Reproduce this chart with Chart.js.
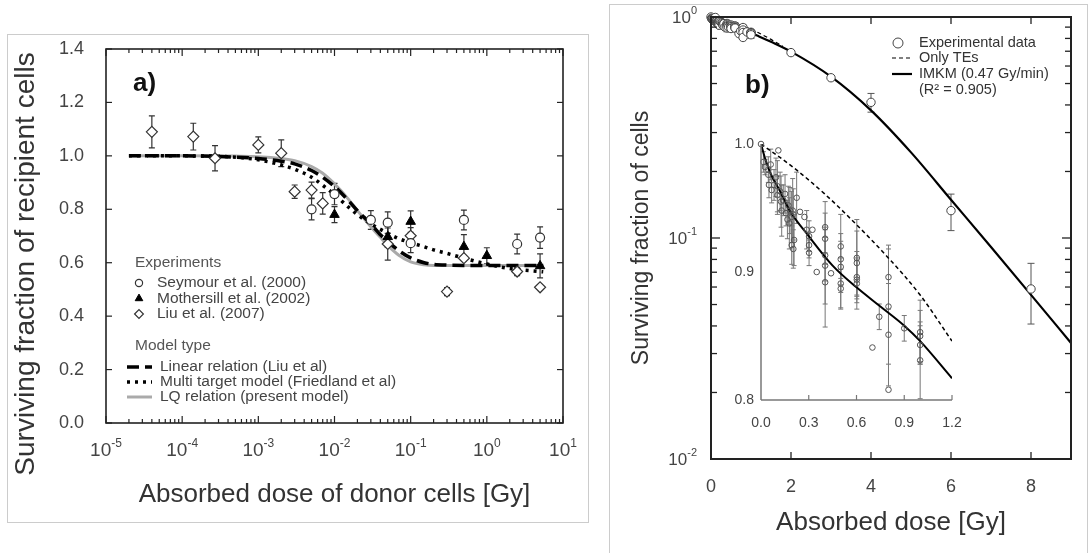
<!DOCTYPE html>
<html>
<head>
<meta charset="utf-8">
<script src="https://cdn.jsdelivr.net/npm/chart.js@4.4.1/dist/chart.umd.min.js"></script>
<style>
  body { margin: 0; background: #fff; }
  #wrap { position: relative; width: 1090px; height: 553px; overflow: hidden; }
  canvas { position: absolute; }
  .frame { position: absolute; box-sizing: border-box; }
</style>
</head>
<body>
<div id="wrap">
  <div class="frame" style="left:7px;top:34px;width:582px;height:489px;border:1px solid #ccc"></div>
  <div class="frame" style="left:609px;top:4px;width:479px;height:560px;border:1px solid #ccc;border-bottom:none"></div>
  <canvas id="chartA" width="600" height="553" style="left:0;top:0"></canvas>
  <canvas id="chartB" width="490" height="553" style="left:600px;top:0"></canvas>
  <canvas id="chartC" width="260" height="320" style="left:720px;top:120px"></canvas>
</div>
<script>
const FONT = '"Liberation Sans", Arial, Helvetica, sans-serif';
Chart.defaults.font.family = FONT;

// ---- panel a: bystander experiments vs. models ----
const aTickY = [0, 0.2, 0.4, 0.6, 0.8, 1.0, 1.2, 1.4];
const aTickExp = [-5, -4, -3, -2, -1, 0, 1];

const seymourDose = [5e-3, 1e-2, 3e-2, 5e-2, 0.1, 0.5, 2.5, 5];
const seymourSF   = [0.80, 0.857, 0.76, 0.75, 0.673, 0.76, 0.67, 0.694];
const seymourErr  = [0.04, 0.04, 0.035, 0.04, 0.035, 0.037, 0.037, 0.04];

const mothersillDose = [1e-2, 5e-2, 0.1, 0.5, 1, 5];
const mothersillSF   = [0.78, 0.697, 0.754, 0.66, 0.626, 0.588];
const mothersillErr  = [0.03, 0.04, 0.04, 0.045, 0.03, 0.045];

const liuDose = [4e-5, 1.4e-4, 2.7e-4, 1e-3, 2e-3, 3e-3, 5e-3, 7e-3, 5e-2, 0.1, 0.3, 0.5, 2.5, 5];
const liuSF   = [1.09, 1.072, 0.991, 1.041, 1.01, 0.866, 0.872, 0.822, 0.67, 0.701, 0.492, 0.617, 0.567, 0.508];
const liuErr  = [0.06, 0.05, 0.047, 0.03, 0.05, 0.025, 0.03, 0.04, 0.06, 0.03, 0.015, 0.01, 0.015, 0];

const modelDose   = [2e-5, 1e-4, 5e-4, 1e-3, 2e-3, 3e-3, 5e-3, 7e-3, 1e-2, 1.5e-2, 2e-2, 3e-2, 4e-2, 5e-2, 7e-2, 0.1, 0.15, 0.2, 0.3, 0.5, 1, 2, 5.5];
const linearSF    = [1.0, 1.0, 0.995, 0.99, 0.98, 0.97, 0.945, 0.92, 0.885, 0.835, 0.795, 0.745, 0.705, 0.68, 0.645, 0.618, 0.6, 0.594, 0.591, 0.59, 0.59, 0.59, 0.59];
const multiSF     = [1.0, 1.0, 0.995, 0.985, 0.966, 0.95, 0.92, 0.89, 0.855, 0.81, 0.78, 0.745, 0.725, 0.71, 0.69, 0.675, 0.66, 0.648, 0.635, 0.617, 0.595, 0.578, 0.566];
const lqSF        = [1.0, 1.0, 0.999, 0.997, 0.99, 0.982, 0.96, 0.935, 0.895, 0.84, 0.795, 0.735, 0.695, 0.665, 0.628, 0.603, 0.592, 0.59, 0.59, 0.59, 0.59, 0.59, 0.59];

// ---- panel b: survival curve ----
const bTickX = [0, 2, 4, 6, 8];
const bTickExp = [-2, -1, 0];
const insetTickX = [0, 0.3, 0.6, 0.9, 1.2];
const insetTickY = [0.8, 0.9, 1.0];

const expDose = [0, 0.015, 0.025, 0.046, 0.061, 0.046, 0.05, 0.067, 0.082, 0.094, 0.103, 0.103, 0.109, 0.12, 0.126, 0.13, 0.14, 0.151, 0.157, 0.166,
  0.172, 0.182, 0.178, 0.191, 0.199, 0.203, 0.208, 0.193, 0.203, 0.224, 0.245, 0.273, 0.287, 0.302, 0.302, 0.302, 0.323, 0.35, 0.403, 0.403,
  0.403, 0.403, 0.403, 0.44, 0.501, 0.501, 0.501, 0.501, 0.501, 0.602, 0.602, 0.602, 0.602, 0.602, 0.70, 0.743, 0.801, 0.801, 0.801, 0.801,
  0.9, 1.0, 1.0, 1.0, 1.0, 2, 3, 4, 6, 8];
const expSF = [1.0, 0.986, 0.982, 0.98, 0.984, 0.976, 0.968, 0.964, 0.968, 0.974, 0.967, 0.96, 0.995, 0.963, 0.955, 0.948, 0.956, 0.961, 0.946, 0.941,
  0.952, 0.948, 0.938, 0.943, 0.948, 0.945, 0.925, 0.921, 0.918, 0.958, 0.947, 0.943, 0.933, 0.928, 0.921, 0.915, 0.933, 0.9, 0.935, 0.926,
  0.913, 0.905, 0.892, 0.899, 0.92, 0.91, 0.904, 0.891, 0.887, 0.911, 0.907, 0.896, 0.894, 0.891, 0.841, 0.865, 0.896, 0.873, 0.851, 0.808,
  0.856, 0.853, 0.85, 0.843, 0.831, 0.69, 0.531, 0.411, 0.133, 0.0588];
const expErr = [0, 0.008, 0.006, 0.01, 0.012, 0, 0.01, 0.01, 0.012, 0.015, 0.02, 0.015, 0, 0.015, 0.02, 0.02, 0.012, 0.015, 0.01, 0.015,
  0.015, 0.018, 0.02, 0.02, 0.025, 0.02, 0.02, 0.015, 0.015, 0.02, 0, 0, 0.015, 0.012, 0.01, 0.01, 0, 0, 0.02, 0.02,
  0.02, 0.03, 0.035, 0, 0.025, 0.02, 0.02, 0.02, 0.015, 0.03, 0.025, 0.02, 0.015, 0.02, 0, 0.01, 0.025, 0.045, 0.04, 0,
  0.01, 0.025, 0.02, 0.015, 0.03, 0.015, 0, 0.04, 0.025, 0.018];

const imkmDose = [0, 0.03, 0.06, 0.12, 0.18, 0.3, 0.45, 0.6, 0.75, 0.9, 1.0, 1.2, 1.5, 2, 3, 4, 5, 6, 7, 8, 9];
const imkmSF   = [1, 0.987, 0.977, 0.963, 0.948, 0.928, 0.905, 0.888, 0.873, 0.858, 0.846, 0.817, 0.772, 0.697, 0.537, 0.378, 0.244, 0.149, 0.091, 0.0553, 0.0335];
const teDose = [0, 0.2, 0.4, 0.6, 0.8, 1.0, 1.2, 1.5, 1.8];
const teSF   = [1, 0.982, 0.961, 0.937, 0.911, 0.882, 0.846, 0.792, 0.735];

// ---- helpers ----
const pts = (xs, ys) => xs.map((x, i) => ({ x: x, y: ys[i] }));
const upTo = (xs, ys, lim) => pts(xs, ys).filter(p => p.x <= lim);

function seg(ctx, x1, y1, x2, y2) {
  ctx.beginPath(); ctx.moveTo(x1, y1); ctx.lineTo(x2, y2); ctx.stroke();
}
function txt(ctx, s, x, y, font, color, align, rot) {
  ctx.save();
  ctx.font = font; ctx.fillStyle = color;
  ctx.textAlign = align || 'left'; ctx.textBaseline = 'middle';
  if (rot) { ctx.translate(x, y); ctx.rotate(rot); ctx.fillText(s, 0, 0); }
  else ctx.fillText(s, x, y);
  ctx.restore();
}
function pow10(ctx, e, x, y, size, color, align) {
  ctx.save();
  const f1 = size + 'px ' + FONT, f2 = Math.round(size * 0.63) + 'px ' + FONT;
  ctx.font = f1; const w1 = ctx.measureText('10').width;
  ctx.font = f2; const w2 = ctx.measureText(String(e)).width;
  const x0 = align === 'right' ? x - w1 - w2 : x - (w1 + w2) / 2;
  ctx.restore();
  txt(ctx, '10', x0, y, f1, color, 'left');
  txt(ctx, String(e), x0 + w1, y - size * 0.4, f2, color, 'left');
}
function sample(ctx, ds, x1, x2, y) {
  ctx.save();
  ctx.strokeStyle = ds.borderColor; ctx.lineWidth = ds.borderWidth;
  ctx.setLineDash(ds.borderDash || []);
  seg(ctx, x1, y, x2, y);
  ctx.restore();
}
function marker(ctx, ds, x, y, r) {
  ctx.save();
  ctx.fillStyle = ds.pointBackgroundColor; ctx.strokeStyle = ds.pointBorderColor;
  ctx.lineWidth = ds.pointBorderWidth;
  Chart.helpers.drawPoint(ctx, { pointStyle: ds.pointStyle, rotation: 0, radius: r || ds.pointRadius, borderWidth: ds.pointBorderWidth }, x, y);
  ctx.restore();
}
function drawErrors(chart) {
  const ctx = chart.ctx, yS = chart.scales.y;
  chart.data.datasets.forEach((ds, i) => {
    if (!ds.errors) return;
    const meta = chart.getDatasetMeta(i);
    ctx.save();
    ctx.strokeStyle = ds.errorColor; ctx.lineWidth = ds.errorWidth;
    meta.data.forEach((pt, j) => {
      const e = ds.errors[j];
      if (!e) return;
      const v = ds.data[j].y, c = ds.capSize;
      const y1 = yS.getPixelForValue(v + e), y2 = yS.getPixelForValue(v - e);
      ctx.beginPath();
      ctx.moveTo(pt.x, y1); ctx.lineTo(pt.x, y2);
      ctx.moveTo(pt.x - c, y1); ctx.lineTo(pt.x + c, y1);
      ctx.moveTo(pt.x - c, y2); ctx.lineTo(pt.x + c, y2);
      ctx.stroke();
    });
    ctx.restore();
  });
}
function scatterSet(label, data, errors, style) {
  return Object.assign({ label: label, data: data, errors: errors, showLine: false, clip: false,
    errorColor: '#333', errorWidth: 1.2, capSize: 3 }, style);
}
function lineSet(label, data, style) {
  return Object.assign({ label: label, data: data, showLine: true, pointRadius: 0, fill: false,
    cubicInterpolationMode: 'monotone', borderColor: '#000' }, style);
}
function makeChart(id, datasets, scales, padding, plugin) {
  return new Chart(document.getElementById(id), {
    type: 'scatter',
    data: { datasets: datasets },
    options: {
      responsive: false, animation: false, devicePixelRatio: 1, events: [],
      layout: { padding: padding },
      scales: scales,
      plugins: { legend: { display: false }, tooltip: { enabled: false } }
    },
    plugins: [plugin]
  });
}

// ---- chart a ----
const aSets = [
  scatterSet('Seymour et al. (2000)', pts(seymourDose, seymourSF), seymourErr,
    { pointStyle: 'circle', pointRadius: 4.5, pointBorderColor: '#333', pointBackgroundColor: '#fff', pointBorderWidth: 1.2 }),
  scatterSet('Mothersill et al. (2002)', pts(mothersillDose, mothersillSF), mothersillErr,
    { pointStyle: 'triangle', pointRadius: 5.5, pointBorderColor: '#000', pointBackgroundColor: '#000', pointBorderWidth: 1 }),
  scatterSet('Liu et al. (2007)', pts(liuDose, liuSF), liuErr,
    { pointStyle: 'rectRot', pointRadius: 5.5, pointBorderColor: '#333', pointBackgroundColor: '#fff', pointBorderWidth: 1.2 }),
  lineSet('Multi target model (Friedland et al)', pts(modelDose, multiSF), { borderWidth: 3.5, borderDash: [3, 5] }),
  lineSet('Linear relation (Liu et al)', pts(modelDose, linearSF), { borderWidth: 3.5, borderDash: [12, 6] }),
  lineSet('LQ relation (present model)', pts(modelDose, lqSF), { borderWidth: 3, borderColor: '#aaa' })
];

const panelA = {
  id: 'panelA',
  beforeDatasetsDraw(chart) { drawErrors(chart); },
  afterDraw(chart) {
    const ctx = chart.ctx, ca = chart.chartArea, x = chart.scales.x, y = chart.scales.y;
    ctx.save();
    ctx.strokeStyle = '#222'; ctx.lineWidth = 1.6;
    ctx.strokeRect(ca.left, ca.top, ca.right - ca.left, ca.bottom - ca.top);
    ctx.lineWidth = 1.2;
    aTickY.forEach(v => {
      const py = y.getPixelForValue(v);
      seg(ctx, ca.left, py, ca.left + 6, py);
      seg(ctx, ca.right, py, ca.right - 6, py);
      txt(ctx, v.toFixed(1), ca.left - 22, py, '18px ' + FONT, '#444', 'right');
    });
    aTickExp.forEach((e, k) => {
      for (let m = 1; m <= 9; m++) {
        if (k === aTickExp.length - 1 && m > 1) break;
        const px = x.getPixelForValue(m * Math.pow(10, e));
        const len = m === 1 ? 7 : 4;
        seg(ctx, px, ca.bottom, px, ca.bottom - len);
        seg(ctx, px, ca.top, px, ca.top + len);
      }
      pow10(ctx, e, x.getPixelForValue(Math.pow(10, e)), ca.bottom + 28, 19, '#444');
    });
    ctx.restore();

    txt(ctx, 'Absorbed dose of donor cells [Gy]', (ca.left + ca.right) / 2, 495, '26px ' + FONT, '#333', 'center');
    txt(ctx, 'Surviving fraction of recipient cells', 26, 264, '28px ' + FONT, '#333', 'center', -Math.PI / 2);
    txt(ctx, 'a)', 133, 84, 'bold 26px ' + FONT, '#111', 'left');

    // legend
    const ds = chart.data.datasets, lf = '15.5px ' + FONT;
    txt(ctx, 'Experiments', 135, 263, lf, '#555', 'left');
    [0, 1, 2].forEach((i, k) => {
      const ly = 283 + k * 15.5;
      marker(ctx, ds[i], 139, ly, ds[i].pointRadius * 0.8);
      txt(ctx, ds[i].label, 157, ly, lf, '#444', 'left');
    });
    txt(ctx, 'Model type', 135, 346, lf, '#555', 'left');
    [4, 3, 5].forEach((i, k) => {
      const ly = 367 + k * 15;
      sample(ctx, ds[i], 127, 152, ly);
      txt(ctx, ds[i].label, 160, ly, lf, '#444', 'left');
    });
  }
};

makeChart('chartA', aSets, {
  x: { type: 'logarithmic', min: 1e-5, max: 10, display: false },
  y: { type: 'linear', min: 0, max: 1.4, display: false }
}, { left: 106, right: 37, top: 49, bottom: 130 }, panelA);

// ---- chart b (main) ----
const bSets = [
  scatterSet('Experimental data', pts(expDose, expSF), expErr,
    { pointStyle: 'circle', pointRadius: 4.2, pointBorderColor: '#444', pointBackgroundColor: '#fff', pointBorderWidth: 1,
      errorColor: '#555', errorWidth: 1, capSize: 3.5 }),
  lineSet('Only TEs', pts(teDose, teSF), { borderWidth: 1.2, borderDash: [4, 3] }),
  lineSet('IMKM (0.47 Gy/min)', pts(imkmDose, imkmSF), { borderWidth: 2.2 })
];

const panelB = {
  id: 'panelB',
  beforeDatasetsDraw(chart) { drawErrors(chart); },
  afterDraw(chart) {
    const ctx = chart.ctx, ca = chart.chartArea, x = chart.scales.x, y = chart.scales.y;
    ctx.save();
    ctx.strokeStyle = '#222'; ctx.lineWidth = 2;
    ctx.strokeRect(ca.left, ca.top, ca.right - ca.left, ca.bottom - ca.top);
    ctx.lineWidth = 1.3;
    bTickExp.forEach((e, k) => {
      for (let m = 1; m <= 9; m++) {
        if (k === bTickExp.length - 1 && m > 1) break;
        const py = y.getPixelForValue(m * Math.pow(10, e));
        const len = m === 1 ? 9 : 6;
        seg(ctx, ca.left, py, ca.left + len, py);
        seg(ctx, ca.right, py, ca.right - len, py);
      }
      pow10(ctx, e, ca.left - 14, y.getPixelForValue(Math.pow(10, e)) + 1, 17, '#444', 'right');
    });
    bTickX.forEach(v => {
      const px = x.getPixelForValue(v);
      seg(ctx, px, ca.bottom, px, ca.bottom - 7);
      seg(ctx, px, ca.top, px, ca.top + 7);
      txt(ctx, String(v), px, ca.bottom + 28, '18px ' + FONT, '#444', 'center');
    });
    ctx.restore();

    txt(ctx, 'Absorbed dose [Gy]', (ca.left + ca.right) / 2, 523, '26px ' + FONT, '#333', 'center');
    txt(ctx, 'Surviving fraction of cells', 42, (ca.top + ca.bottom) / 2, '23px ' + FONT, '#333', 'center', -Math.PI / 2);
    txt(ctx, 'b)', 145, 86, 'bold 26px ' + FONT, '#111', 'left');

    const ds = chart.data.datasets, lf = '14.5px ' + FONT;
    marker(ctx, ds[0], 298, 43, 5);
    txt(ctx, ds[0].label, 319, 43, lf, '#333', 'left');
    sample(ctx, ds[1], 292, 312, 58);
    txt(ctx, ds[1].label, 319, 58, lf, '#333', 'left');
    sample(ctx, ds[2], 292, 312, 74);
    txt(ctx, ds[2].label, 319, 74, lf, '#333', 'left');
    txt(ctx, '(R\u00B2 = 0.905)', 319, 90, lf, '#333', 'left');
  }
};

makeChart('chartB', bSets, {
  x: { type: 'linear', min: 0, max: 9, display: false },
  y: { type: 'logarithmic', min: 0.01, max: 1, display: false }
}, { left: 111, right: 19, top: 17, bottom: 94 }, panelB);

// ---- chart c (inset, low doses) ----
const cSets = [
  scatterSet('Experimental data', upTo(expDose, expSF, 1.2), expErr.filter((e, i) => expDose[i] <= 1.2),
    { pointStyle: 'circle', pointRadius: 2.8, pointBorderColor: '#555', pointBackgroundColor: 'rgba(255,255,255,0)', pointBorderWidth: 1,
      errorColor: '#777', errorWidth: 1, capSize: 2.5 }),
  lineSet('Only TEs', upTo(teDose, teSF, 1.2), { borderWidth: 1.5, borderDash: [4, 3] }),
  lineSet('IMKM (0.47 Gy/min)', upTo(imkmDose, imkmSF, 1.2), { borderWidth: 2 })
];

const panelC = {
  id: 'panelC',
  beforeDatasetsDraw(chart) { drawErrors(chart); },
  afterDraw(chart) {
    const ctx = chart.ctx, ca = chart.chartArea, x = chart.scales.x, y = chart.scales.y;
    ctx.save();
    ctx.strokeStyle = '#777'; ctx.lineWidth = 1.5;
    seg(ctx, ca.left, ca.top, ca.left, ca.bottom);
    seg(ctx, ca.left, ca.bottom, ca.right, ca.bottom);
    ctx.lineWidth = 1.2;
    insetTickX.forEach(v => {
      const px = x.getPixelForValue(v);
      if (v > 0) seg(ctx, px, ca.bottom, px, ca.bottom - 5);
      txt(ctx, v.toFixed(1), px, ca.bottom + 23, '14px ' + FONT, '#444', 'center');
    });
    insetTickY.forEach(v => {
      txt(ctx, v.toFixed(1), ca.left - 7, y.getPixelForValue(v), '14px ' + FONT, '#444', 'right');
    });
    ctx.restore();
  }
};

makeChart('chartC', cSets, {
  x: { type: 'linear', min: 0, max: 1.2, display: false },
  y: { type: 'linear', min: 0.8, max: 1.0, display: false }
}, { left: 41, right: 28, top: 24, bottom: 40 }, panelC);
</script>
</body>
</html>
